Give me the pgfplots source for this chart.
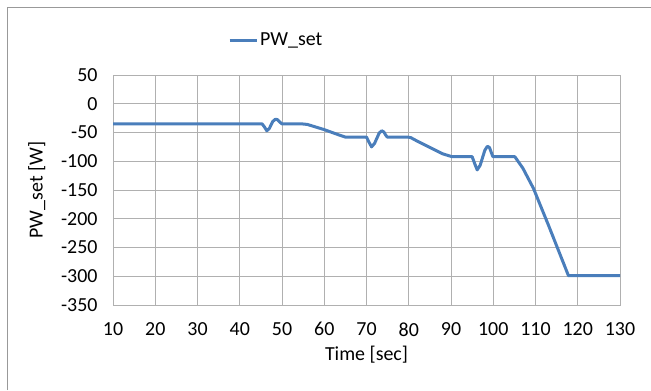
\documentclass[border=0pt]{standalone}
\usepackage{pgfplots}
\pgfplotsset{compat=1.18}
\usepackage{fontspec}
\setmainfont{Carlito}
\definecolor{lineblue}{HTML}{4A7EBB}
\definecolor{gridgray}{HTML}{B0B0B0}
\begin{document}
\begin{tikzpicture}[x=1bp,y=1bp]
\useasboundingbox (0,0) rectangle (651,390);
\draw[gray!80, line width=1bp] (7,0) -- (7,382) -- (651,382);
\begin{axis}[
  at={(113bp,85bp)}, anchor=south west,
  scale only axis, width=507bp, height=230bp,
  xmin=10, xmax=130, ymin=-350, ymax=50,
  xtick={10,20,...,130}, ytick={-350,-300,...,50},
  grid=major, major grid style={gridgray, line width=0.8bp},
  axis line style={gridgray, line width=0.8bp},
  tick style={draw=none},
  /pgf/number format/assume math mode=true,
  ticklabel style={font=\fontsize{20}{23}\selectfont},
  xticklabel style={yshift=-14bp},
  yticklabel style={xshift=-12bp},
  xlabel={Time [sec]}, ylabel={PW\_set [W]},
  label style={font=\fontsize{20}{23}\selectfont},
  xlabel style={yshift=-3bp},
  ylabel style={yshift=9bp},
  legend style={draw=none, fill=none, at={(axis description cs:0.322,1.152)}, anchor=center, font=\fontsize{20}{23}\selectfont, legend cell align=left},
  legend image code/.code={\draw[#1, line width=3bp] (0bp,0bp) -- (27bp,0bp);},
]
\addplot[lineblue, line width=3bp, line join=round] coordinates {
(10,-35) (45.3,-35) (45.9,-41) (46.4,-47) (47,-43) (47.8,-31) (48.4,-27) (48.9,-27.5) (49.5,-32) (50,-35) (54.7,-35)
(56,-36) (60,-45) (63,-53) (65,-58) (70,-58) (70.6,-67) (71.2,-75) (71.9,-69) (73,-51) (73.6,-47) (74.1,-49) (74.5,-54)
(74.9,-58) (79.8,-58) (80.5,-59) (82,-65) (88,-87) (90.2,-92) (95,-92) (95.6,-104)
(96.2,-115) (96.9,-107) (98,-81) (98.6,-74) (99.1,-76) (99.5,-84) (99.9,-92) (105.1,-92) (107,-112)
(109.5,-147) (113,-210) (117.8,-299) (130,-299)
};
\addlegendentry{PW\_set}
\end{axis}
\end{tikzpicture}
\end{document}
